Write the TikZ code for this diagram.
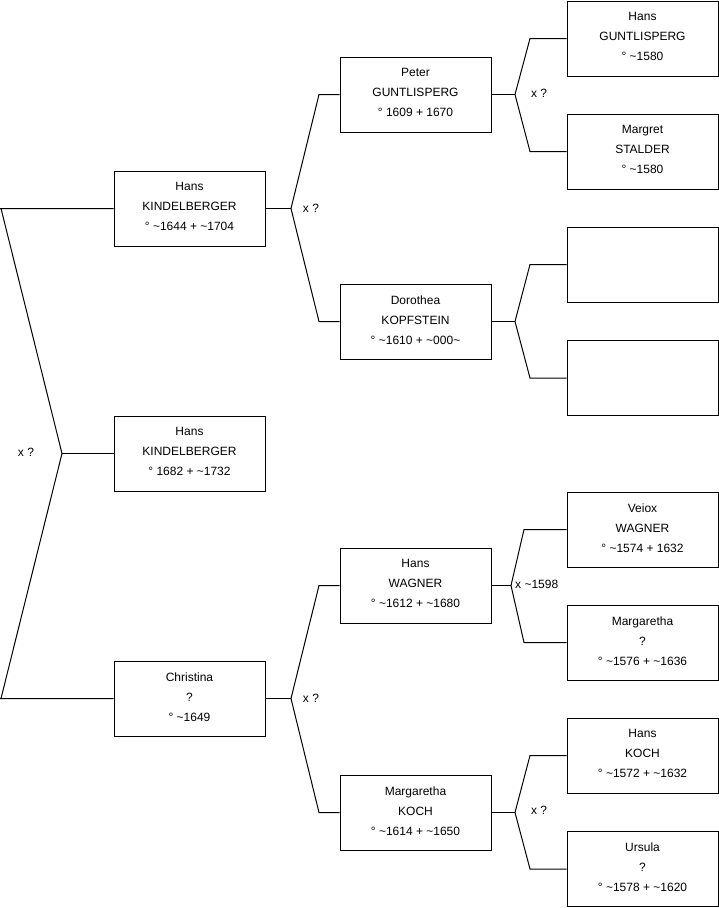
\documentclass[tikz,border=0pt]{standalone}
\usepackage{fontspec}
\setmainfont{Liberation Sans}
\begin{document}
\begin{tikzpicture}[x=1pt,y=-1pt,
  person/.style={draw=black,line width=1pt,fill=white,minimum width=151pt,minimum height=75pt,
    inner sep=0pt,align=center,font=\fontsize{12pt}{20pt}\selectfont,
    execute at end node={\rule[-3.5pt]{0pt}{0pt}}},
  conn/.style={draw=black,line width=1pt},
  lbl/.style={font=\fontsize{12pt}{14pt}\selectfont,inner sep=0pt}]
\useasboundingbox (0,0) rectangle (719,908);
% left column
\node[person] (hk1) at (189.5,208.5) {Hans\\KINDELBERGER\\° \textasciitilde1644 + \textasciitilde1704};
\node[person] (hk2) at (189.5,453.5) {Hans\\KINDELBERGER\\° 1682 + \textasciitilde1732};
\node[person] (chr) at (189.5,698.5) {Christina\\?\\° \textasciitilde1649};
% middle column
\node[person] (pg) at (415.5,94.5) {Peter\\GUNTLISPERG\\° 1609 + 1670};
\node[person] (dk) at (415.5,321.5) {Dorothea\\KOPFSTEIN\\° \textasciitilde1610 + \textasciitilde000\textasciitilde};
\node[person] (hw) at (415.5,585.5) {Hans\\WAGNER\\° \textasciitilde1612 + \textasciitilde1680};
\node[person] (mk) at (415.5,812.5) {Margaretha\\KOCH\\° \textasciitilde1614 + \textasciitilde1650};
% right column
\node[person] (hg) at (642.5,38.5) {Hans\\GUNTLISPERG\\° \textasciitilde1580};
\node[person] (ms) at (642.5,151.5) {Margret\\STALDER\\° \textasciitilde1580};
\node[person] (e1) at (642.5,264.5) {};
\node[person] (e2) at (642.5,378) {};
\node[person] (vw) at (642.5,529.5) {Veiox\\WAGNER\\° \textasciitilde1574 + 1632};
\node[person] (mq) at (642.5,642.5) {Margaretha\\?\\° \textasciitilde1576 + \textasciitilde1636};
\node[person] (hko) at (642.5,755.5) {Hans\\KOCH\\° \textasciitilde1572 + \textasciitilde1632};
\node[person] (uq) at (642.5,869) {Ursula\\?\\° \textasciitilde1578 + \textasciitilde1620};
% junction coordinates
\coordinate (j0) at (62,453.5);
\coordinate (j0a) at (1,208.5);
\coordinate (j0b) at (1,698.5);
\coordinate (j1) at (291,208.5);
\coordinate (j1a) at (319,94.5);
\coordinate (j1b) at (319,321.5);
\coordinate (j2) at (291,698.5);
\coordinate (j2a) at (319,585.5);
\coordinate (j2b) at (319,812.5);
\coordinate (j3) at (515,94.5);
\coordinate (j3a) at (530,38.5);
\coordinate (j3b) at (530,151.5);
\coordinate (j4) at (515,321.5);
\coordinate (j4a) at (530,264.5);
\coordinate (j4b) at (530,378);
\coordinate (j5) at (511,585.5);
\coordinate (j5a) at (524,529.5);
\coordinate (j5b) at (524,642.5);
\coordinate (j6) at (515,812.5);
\coordinate (j6a) at (530,755.5);
\coordinate (j6b) at (530,869);
% connectors
\draw[conn] (hk1.west) -- (0,208.5) -- (j0a) -- (j0) -- (j0b) -- (0,698.5) -- (chr.west);
\draw[conn] (hk2.west) -- (j0);
\draw[conn] (pg.west) -- (j1a) -- (j1) -- (j1b) -- (dk.west);
\draw[conn] (hk1.east) -- (j1);
\draw[conn] (hw.west) -- (j2a) -- (j2) -- (j2b) -- (mk.west);
\draw[conn] (chr.east) -- (j2);
\draw[conn] (hg.west) -- (j3a) -- (j3) -- (j3b) -- (ms.west);
\draw[conn] (pg.east) -- (j3);
\draw[conn] (e1.west) -- (j4a) -- (j4) -- (j4b) -- (e2.west);
\draw[conn] (dk.east) -- (j4);
\draw[conn] (vw.west) -- (j5a) -- (j5) -- (j5b) -- (mq.west);
\draw[conn] (hw.east) -- (j5);
\draw[conn] (hko.west) -- (j6a) -- (j6) -- (j6b) -- (uq.west);
\draw[conn] (mk.east) -- (j6);
% labels
\node[lbl] (l0) at (26,452) {x ?};
\node[lbl] (l1) at (311,208) {x ?};
\node[lbl] (l2) at (311,698) {x ?};
\node[lbl] (l3) at (539,93) {x ?};
\node[lbl,anchor=west] (l5) at (515,584) {x \textasciitilde1598};
\node[lbl] (l6) at (539,810) {x ?};
\end{tikzpicture}
\end{document}
